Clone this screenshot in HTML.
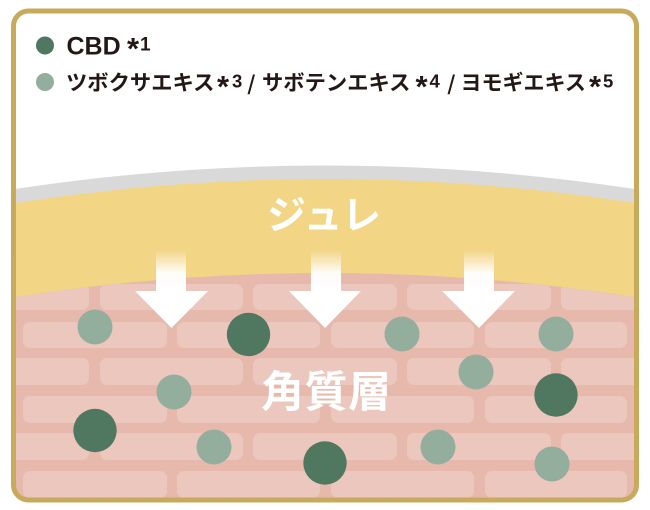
<!DOCTYPE html>
<html><head><meta charset="utf-8">
<style>html,body{margin:0;padding:0;background:#fff}svg{display:block}
text{font-family:"Liberation Sans","Noto Sans CJK JP",sans-serif;font-weight:700}
text.k{font-size:21.3px}
text.a{font-size:31px}
text.d{font-size:18.5px}
text.s{font-size:27px;font-weight:400}</style></head>
<body>
<svg width="650" height="510" viewBox="0 0 650 510" xmlns="http://www.w3.org/2000/svg">
<defs>
<clipPath id="f"><rect x="13" y="11" width="624" height="489" rx="15"/></clipPath>
<clipPath id="s"><path d="M0 300 L15 297 Q325 249 635 297 L650 300 V510 H0 Z"/></clipPath>
<linearGradient id="g" x1="0" y1="0" x2="0" y2="1"><stop offset="0" stop-color="#fff" stop-opacity="0"/><stop offset="0.55" stop-color="#fff" stop-opacity="0.95"/><stop offset="1" stop-color="#fff"/></linearGradient>
</defs>
<rect width="650" height="510" fill="#fff"/>
<g clip-path="url(#f)">
<path d="M15 189 Q325 142 635 189 V300 H15 Z" fill="#d9d9d9"/>
<path d="M15 203 Q325 155 635 203 V310 H15 Z" fill="#f2d585"/>
<path d="M15 297 Q325 249 635 297 V500 H15 Z" fill="#e6b9ac"/>
<g clip-path="url(#s)" fill="#ebc7bd">
<rect x="-50" y="284" width="139" height="26" rx="7"/><rect x="100" y="284" width="143" height="26" rx="7"/><rect x="253" y="284" width="144" height="26" rx="7"/><rect x="407" y="284" width="144" height="26" rx="7"/><rect x="561" y="284" width="100" height="26" rx="7"/>
<rect x="23" y="322" width="144" height="26" rx="7"/><rect x="177" y="322" width="143" height="26" rx="7"/><rect x="331" y="322" width="143" height="26" rx="7"/><rect x="485" y="322" width="142" height="26" rx="7"/>
<rect x="-50" y="358" width="139" height="27" rx="7"/><rect x="100" y="358" width="143" height="27" rx="7"/><rect x="253" y="358" width="144" height="27" rx="7"/><rect x="407" y="358" width="144" height="27" rx="7"/><rect x="561" y="358" width="100" height="27" rx="7"/>
<rect x="23" y="396" width="144" height="27" rx="7"/><rect x="177" y="396" width="143" height="27" rx="7"/><rect x="331" y="396" width="143" height="27" rx="7"/><rect x="485" y="396" width="142" height="27" rx="7"/>
<rect x="-50" y="433" width="139" height="27" rx="7"/><rect x="100" y="433" width="143" height="27" rx="7"/><rect x="253" y="433" width="144" height="27" rx="7"/><rect x="407" y="433" width="144" height="27" rx="7"/><rect x="561" y="433" width="100" height="27" rx="7"/>
<rect x="23" y="471" width="144" height="27" rx="7"/><rect x="177" y="471" width="143" height="27" rx="7"/><rect x="331" y="471" width="143" height="27" rx="7"/><rect x="485" y="471" width="142" height="27" rx="7"/>
</g>
</g>
<rect x="13.5" y="11" width="623" height="489" rx="15" fill="none" stroke="#c9a95c" stroke-width="5"/>

<g fill="#fff">
<rect x="156" y="250" width="30" height="42" fill="url(#g)"/><path d="M135 291 H208 L171.500 328 Z"/>
<rect x="311" y="250" width="30" height="42" fill="url(#g)"/><path d="M289 291 H361 L325 328 Z"/>
<rect x="464" y="250" width="30" height="42" fill="url(#g)"/><path d="M442 291 H515 L479 328 Z"/>
</g>

<g fill="#94ae9d">
<circle cx="95" cy="327" r="17.500"/><circle cx="174" cy="392" r="17.500"/><circle cx="214" cy="447" r="17.500"/><circle cx="402" cy="334" r="17.500"/><circle cx="476" cy="372" r="17.500"/><circle cx="556" cy="334" r="17.500"/><circle cx="438" cy="447" r="17.500"/><circle cx="552" cy="464" r="17.500"/>
<circle cx="45" cy="82" r="9"/>
</g>
<g fill="#50775f">
<circle cx="248.500" cy="334.500" r="21.700"/><circle cx="95" cy="430.500" r="21.700"/><circle cx="325" cy="463" r="21.700"/><circle cx="556" cy="395" r="21.700"/>
<circle cx="45" cy="45.500" r="9"/>
</g>

<g fill="#231815">
<text x="66.500" y="54.500" font-size="25">CBD</text>
<text class="a" x="127" y="59">*</text>
<text x="140" y="50.500" font-size="19">1</text>
<text class="k" x="66" y="90">ツボクサエキス</text>
<text class="a" x="217" y="97">*</text>
<text class="d" x="232" y="87.500">3</text>
<text class="s" x="247.500" y="94">/</text>
<text class="k" x="262" y="90">サボテンエキス</text>
<text class="a" x="415.500" y="97">*</text>
<text class="d" x="429.500" y="87.500">4</text>
<text class="s" x="447.500" y="94">/</text>
<text class="k" x="460.500" y="90" style="font-size:21px">ヨモギエキス</text>
<text class="a" x="589" y="97">*</text>
<text class="d" x="603" y="87.500">5</text>
</g>
<g fill="#fff">
<text x="267" y="229" font-size="39" textLength="114" lengthAdjust="spacing">ジュレ</text>
<text x="261" y="407" font-size="43" textLength="130" lengthAdjust="spacing">角質層</text>
</g>
</svg>
</body></html>
